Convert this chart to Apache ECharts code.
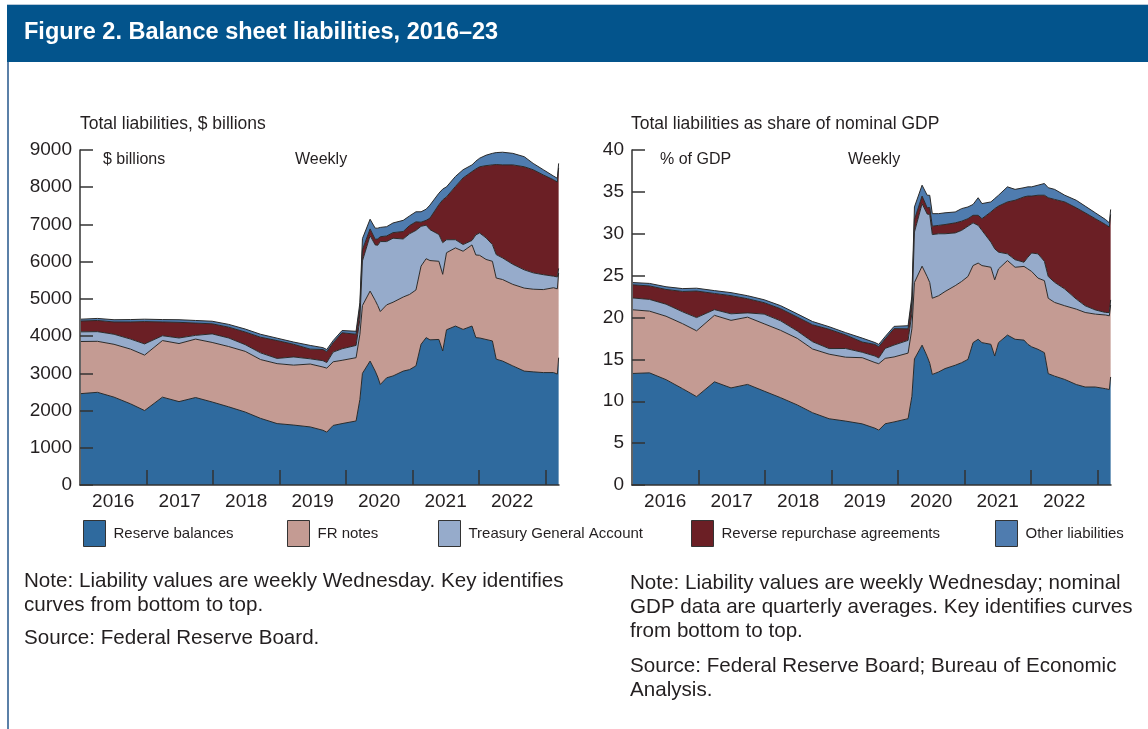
<!DOCTYPE html>
<html><head><meta charset="utf-8">
<script src="https://cdn.jsdelivr.net/npm/echarts@6/dist/echarts.min.js"></script>
<style>html,body{margin:0;padding:0;background:#fff;overflow:hidden}#c{width:1148px;height:729px}</style>
</head><body><div id="c"></div>
<script>
const dates = ['2016-01-06','2016-04-06','2016-07-06','2016-10-05','2016-12-21','2017-03-29','2017-06-28','2017-09-27','2017-12-27',
'2018-03-28','2018-06-27','2018-09-19','2018-12-19','2019-03-20','2019-06-19','2019-08-28','2019-09-18','2019-10-23','2019-12-11',
'2020-02-26','2020-03-18','2020-04-01','2020-05-13','2020-06-10','2020-06-24','2020-07-08','2020-08-12','2020-09-16','2020-11-11','2020-12-16',
'2021-01-20','2021-02-17','2021-03-17','2021-04-07','2021-05-26','2021-06-16','2021-07-07','2021-08-25','2021-10-06','2021-11-24','2021-12-15',
'2022-01-05','2022-02-09','2022-03-16','2022-04-06','2022-05-11','2022-07-06','2022-09-07','2022-10-26','2022-12-21',
'2023-02-15','2023-03-08','2023-03-15'];

// Left panel: $ billions
const reservesBn = [2455,2490,2360,2180,2000,2360,2240,2350,2230,2100,1960,1790,1650,1610,1560,1470,1420,1600,1650,
1720,2300,3000,3330,3060,2900,2700,2880,2930,3060,3100,3200,3780,3960,3900,3910,3600,4170,4270,4180,4270,3960,
3950,3910,3870,3380,3330,3200,3060,3040,3020,3020,2980,3420];
const frNotesBn = [1400,1370,1420,1470,1490,1520,1560,1570,1600,1620,1630,1580,1610,1610,1690,1700,1720,1710,1700,
1700,1750,1820,1880,1900,1920,1960,1960,1980,1990,2020,2040,2100,2120,2130,2100,2060,2070,2100,2100,2180,2220,
2220,2150,2140,2180,2190,2190,2230,2220,2230,2280,2290,2280];
const tgaBn = [260,260,270,270,300,130,150,100,230,230,180,180,140,220,140,170,150,260,310,
330,400,1200,1490,1490,1620,1880,1700,1720,1560,1630,1600,1070,900,830,720,850,350,220,180,120,540,
600,580,450,630,580,540,490,440,400,310,320,120];
const rrpBn = [290,300,330,460,600,370,420,330,270,290,340,420,480,340,260,300,290,250,430,
300,300,300,180,150,170,130,150,150,200,220,230,110,130,310,800,1150,1150,1430,1790,1850,1770,
1780,1940,2140,2420,2500,2670,2770,2770,2680,2590,2550,2700];
const otherBn = [50,55,60,65,65,65,70,70,70,75,80,80,65,60,100,50,60,60,60,
80,150,300,260,300,290,250,250,260,300,260,270,280,300,350,310,290,270,270,220,180,210,
230,280,310,320,340,310,270,170,140,100,100,120];

// Right panel: % of nominal GDP
const reservesPct = [13.32,13.39,12.58,11.50,10.55,12.32,11.59,12.01,11.21,10.42,9.56,8.63,7.91,7.63,7.30,6.78,6.55,7.31,7.53,
7.92,10.59,15.05,16.70,15.35,14.54,13.2,13.5,13.9,14.3,14.6,15.0,17.0,17.4,17.0,16.8,15.4,17.0,17.9,17.4,17.3,16.8,
16.5,16.2,15.8,13.3,13.0,12.6,12.0,11.7,11.7,11.5,11.4,12.9];
const frNotesPct = [7.60,7.37,7.57,7.76,7.86,7.94,8.07,8.03,8.04,8.04,7.95,7.61,7.71,7.63,7.90,7.84,7.93,7.81,7.76,
7.83,8.06,9.13,9.43,9.53,9.63,9.1,9.1,9.2,9.5,9.7,9.9,9.2,9.1,9.2,9.2,9.1,8.8,8.9,8.6,8.8,9.0,
9.0,8.5,8.6,9.0,8.8,8.8,9.0,8.9,8.7,8.8,8.8,8.6];
const tgaPct = [1.41,1.40,1.44,1.42,1.58,0.68,0.78,0.51,1.16,1.14,0.88,0.87,0.67,1.04,0.65,0.78,0.69,1.19,1.42,
1.52,1.84,6.02,7.47,7.47,8.12,7.6,7.4,6.9,6.3,6.1,6.0,5.1,4.5,4.2,3.0,3.7,2.0,0.8,0.9,0.5,1.4,
2.2,2.9,2.3,2.6,2.4,2.0,1.2,0.8,0.5,0.3,0.4,0.6];
const rrpPct = [1.57,1.61,1.76,2.43,3.17,1.93,2.17,1.69,1.36,1.44,1.66,2.02,2.30,1.61,1.22,1.38,1.34,1.14,1.96,
1.38,1.38,1.50,0.90,0.75,0.85,1.0,1.0,1.1,1.2,1.1,0.9,0.9,1.2,1.4,3.6,4.8,5.5,6.2,7.1,7.8,7.3,
6.8,7.0,7.9,9.4,9.9,10.4,10.9,11.1,10.9,10.5,10.2,10.2];
const otherPct = [0.27,0.30,0.32,0.34,0.34,0.34,0.36,0.36,0.35,0.37,0.39,0.39,0.31,0.28,0.47,0.23,0.28,0.27,0.27,
0.37,0.69,1.50,1.30,1.50,1.45,1.5,1.4,1.4,1.3,1.5,1.4,1.3,2.1,1.8,1.2,1.2,1.3,1.8,1.3,1.1,1.1,
1.1,1.2,1.4,1.2,1.2,0.8,0.9,0.8,0.7,0.6,0.5,0.6];

const seriesNames = ['Reserve balances','FR notes','Treasury General Account','Reverse repurchase agreements','Other liabilities'];
const yearLabels = [2016,2017,2018,2019,2020,2021,2022];
const yearTicks = [2017,2018,2019,2020,2021,2022,2023];
const leftTicks = [0,1000,2000,3000,4000,5000,6000,7000,8000,9000];
const rightTicks = [0,5,10,15,20,25,30,35,40];

// ---- styling ----
const colors = ['#2f6a9e','#c49b93','#96abcb','#6b1f25','#4f7caf'];
const FONT = 'Liberation Sans, Arial, sans-serif';
const TXT = '#231f20';

const ts = s => Date.parse(s + 'T00:00:00Z');
const xs = dates.map(ts);
const startDate = '2016-01-01', endDate = '2023-03-17';
// decimal-year equivalents of the time range (for the year tick/label axis)
function yearFrac(s){ const y = +s.slice(0,4); const a = Date.UTC(y,0,1), b = Date.UTC(y+1,0,1); return y + (ts(s) - a) / (b - a); }

function mkSeries(arrs, axisIdx, stackName){
  return arrs.map((arr, i) => ({
    name: seriesNames[i], type: 'line', stack: stackName,
    xAxisIndex: axisIdx, yAxisIndex: axisIdx,
    data: arr.map((v, k) => [xs[k], v]),
    symbol: 'none', smooth: false, silent: true, animation: false,
    z: 10 - i,
    itemStyle: { color: colors[i] },
    lineStyle: { color: '#2a2a2a', width: 1 },
    areaStyle: { color: colors[i], opacity: 1 },
    emphasis: { disabled: true }
  }));
}

function timeAxis(gi){
  return {
    type: 'time', gridIndex: gi, min: ts(startDate), max: ts(endDate), z: 20, position: 'bottom',
    axisLine: { show: true, lineStyle: { color: '#333', width: 1.5 } },
    axisTick: { show: false }, axisLabel: { show: false }, splitLine: { show: false }
  };
}
function yearAxis(gi){
  return {
    type: 'value', gridIndex: gi, min: yearFrac(startDate), max: yearFrac(endDate), z: 21, position: 'bottom',
    axisLine: { show: false },
    axisTick: { show: true, inside: true, length: 15, customValues: yearTicks, lineStyle: { color: '#333', width: 1.5 } },
    axisLabel: { customValues: yearLabels.map(y => y + 0.5), formatter: v => String(Math.floor(v)),
      fontSize: 19, color: TXT, fontFamily: FONT, margin: 7 },
    splitLine: { show: false }
  };
}
function yAxis(gi, ticks){
  return {
    type: 'value', gridIndex: gi, min: ticks[0], max: ticks[ticks.length-1], interval: ticks[1]-ticks[0], z: 20,
    axisLine: { show: true, lineStyle: { color: '#333', width: 1.5 } },
    axisTick: { show: true, inside: true, length: 13, lineStyle: { color: '#333', width: 1.5 } },
    axisLabel: { fontSize: 19, color: TXT, fontFamily: FONT, margin: 8, formatter: v => String(v) },
    splitLine: { show: false }
  };
}

const legendLeft = [83, 287, 438, 691, 995];
const legends = seriesNames.map((n, i) => ({
  data: [n], left: legendLeft[i], top: 520, icon: 'rect', itemWidth: 22, itemHeight: 26, padding: 0,
  selectedMode: false, itemStyle: { borderColor: '#333', borderWidth: 1 },
  textStyle: { fontSize: 15, color: TXT, fontFamily: FONT, padding: [0,0,0,3] }
}));

function t(x, y, text, size, extra){
  return Object.assign({ type: 'text', x: x, y: y, silent: true,
    style: Object.assign({ text: text, fill: TXT, font: size + 'px ' + FONT, verticalAlign: 'middle', align: 'left' }, extra || {}) });
}

const graphics = [
  { type: 'rect', silent: true, shape: { x: 7, y: 4, width: 1141, height: 1 }, style: { fill: '#b8c8d8' } },
  { type: 'rect', silent: true, shape: { x: 7, y: 5, width: 1141, height: 57 }, style: { fill: '#03548c' } },
  { type: 'rect', silent: true, shape: { x: 7, y: 62, width: 2, height: 667 }, style: { fill: '#5b80a8' } },
  t(24, 33, 'Figure 2. Balance sheet liabilities, 2016\u201323', 23, { fill: '#ffffff', font: 'bold 23.5px ' + FONT }),
  t(80, 124, 'Total liabilities, $ billions', 17.5),
  t(631, 124, 'Total liabilities as share of nominal GDP', 17.5),
  t(103, 160, '$ billions', 16),
  t(295, 160, 'Weekly', 16),
  t(660, 160, '% of GDP', 16),
  t(848, 160, 'Weekly', 16),
  t(24, 581, 'Note: Liability values are weekly Wednesday. Key identifies', 20.6),
  t(24, 605, 'curves from bottom to top.', 20.6),
  t(24, 638, 'Source: Federal Reserve Board.', 20.6),
  t(630, 583, 'Note: Liability values are weekly Wednesday; nominal', 20.6),
  t(630, 607, 'GDP data are quarterly averages. Key identifies curves', 20.6),
  t(630, 631, 'from bottom to top.', 20.6),
  t(630, 666, 'Source: Federal Reserve Board; Bureau of Economic', 20.6),
  t(630, 690, 'Analysis.', 20.6)
];

const chart = echarts.init(document.getElementById('c'), null, { renderer: 'canvas' });
chart.setOption({
  animation: false,
  backgroundColor: '#ffffff',
  textStyle: { fontFamily: FONT },
  grid: [
    { left: 80, top: 150, width: 479, height: 335 },
    { left: 632, top: 150, width: 479, height: 335 }
  ],
  xAxis: [timeAxis(0), timeAxis(1), yearAxis(0), yearAxis(1)],
  yAxis: [yAxis(0, leftTicks), yAxis(1, rightTicks)],
  legend: legends,
  graphic: graphics,
  series: mkSeries([reservesBn, frNotesBn, tgaBn, rrpBn, otherBn], 0, 'bn')
    .concat(mkSeries([reservesPct, frNotesPct, tgaPct, rrpPct, otherPct], 1, 'pct'))
});
</script>
</body></html>
